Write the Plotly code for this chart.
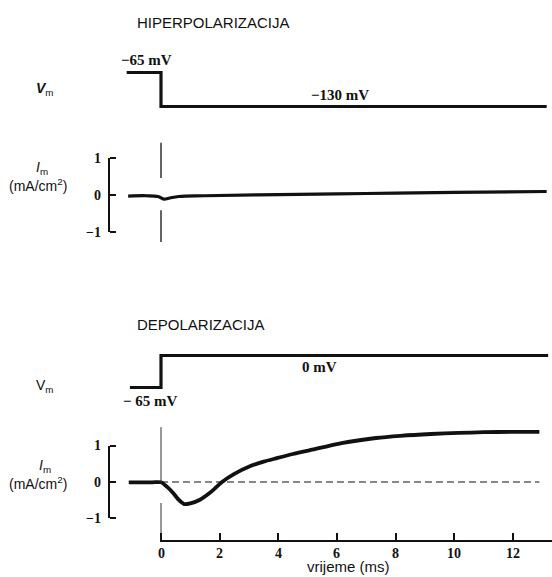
import plotly.graph_objects as go

# ---------------- data ----------------
# Hyperpolarisation: voltage step -65 mV -> -130 mV at t = 0
hyp_v_t = [-1.17, 0, 0, 13.15]
hyp_v_mv = [-65, -65, -130, -130]
# Hyperpolarisation: membrane current (mA/cm^2)
hyp_i_t = [-1.12, -0.5, -0.1, 0.1, 0.3, 0.6, 1.5, 4, 7, 10, 13.15]
hyp_i = [-0.03, -0.02, -0.04, -0.11, -0.08, -0.04, -0.02, 0.01, 0.04, 0.07, 0.095]
# Hyperpolarisation: step-time marker (broken vertical line at t = 0)
hyp_mark_t = [0, 0, None, 0, 0]
hyp_mark_i = [1.41, 0.46, None, -0.41, -1.27]

# Depolarisation: voltage step -65 mV -> 0 mV at t = 0
dep_v_t = [-1.06, 0, 0, 13.2]
dep_v_mv = [-65, -65, 0, 0]
# Depolarisation: membrane current (mA/cm^2)
dep_i_t = [-1.1, -0.3, 0, 0.2, 0.42, 0.6, 0.79, 1.0, 1.33, 1.7, 2.07, 2.5, 3.03, 3.5,
           3.92, 4.5, 5.06, 6.16, 7.33, 8.16, 9.2, 10.15, 11.0, 11.99, 12.9]
dep_i = [0, 0, 0, -0.12, -0.30, -0.48, -0.60, -0.58, -0.48, -0.27, 0.0, 0.23, 0.44, 0.57,
         0.66, 0.78, 0.88, 1.08, 1.22, 1.28, 1.33, 1.36, 1.38, 1.39, 1.39]
dep_zero_t = [0, 12.9]
dep_zero_i = [0, 0]
dep_mark_t = [0, 0, None, 0, 0]
dep_mark_i = [1.52, 0.0, None, -0.57, -1.62]

time_ticks = [0, 2, 4, 6, 8, 10, 12]
current_ticks = [-1, 0, 1]
current_tick_labels = ["−1", "0", "1"]

# ---------------- layout helpers ----------------
W, H = 552, 577
T0_PX, PX_PER_MS = 161, 29.33
BRACKET_PX = 109
XAXIS_PX = 541


def px(x):
    return x / W


def py(y):
    return 1 - y / H


def yrange(zero_px, unit_px, bottom_px=H, top_px=0):
    return [-(bottom_px - zero_px) / unit_px, (zero_px - top_px) / unit_px]


def trange(left_px):
    return [-(T0_PX - left_px) / PX_PER_MS, (W - T0_PX) / PX_PER_MS]


INK = "#111111"
SERIF = "Liberation Serif"
SANS = "Liberation Sans"

fig = go.Figure()

fig.add_trace(go.Scatter(x=hyp_v_t, y=hyp_v_mv, xaxis="x", yaxis="y3", mode="lines",
                         line=dict(color=INK, width=3.2)))
fig.add_trace(go.Scatter(x=hyp_i_t, y=hyp_i, xaxis="x", yaxis="y5", mode="lines",
                         line=dict(color=INK, width=3.2, shape="spline")))
fig.add_trace(go.Scatter(x=hyp_mark_t, y=hyp_mark_i, xaxis="x", yaxis="y2", mode="lines",
                         line=dict(color=INK, width=1.3)))
fig.add_trace(go.Scatter(x=dep_v_t, y=dep_v_mv, xaxis="x", yaxis="y4", mode="lines",
                         line=dict(color=INK, width=3.2)))
fig.add_trace(go.Scatter(x=dep_zero_t, y=dep_zero_i, xaxis="x", yaxis="y6", mode="lines",
                         line=dict(color=INK, width=1.2, dash="7px,4px")))
fig.add_trace(go.Scatter(x=dep_mark_t, y=dep_mark_i, xaxis="x2", yaxis="y7", mode="lines",
                         line=dict(color="#333333", width=1)))
fig.add_trace(go.Scatter(x=dep_i_t, y=dep_i, xaxis="x", yaxis="y", mode="lines",
                         line=dict(color=INK, width=3.8, shape="spline", smoothing=0.7)))

hidden = dict(visible=False, fixedrange=True, showgrid=False, zeroline=False)
# bracket-style current axes: free line at the bracket, ticks pointing right
disp_y = dict(anchor="free", position=px(BRACKET_PX), side="right",
              range=[-1, 1], tickvals=current_ticks, showticklabels=False,
              ticks="outside", ticklen=6, tickwidth=1.5, tickcolor=INK,
              showline=True, linecolor=INK, linewidth=1.5, showgrid=False, zeroline=False,
              fixedrange=True)

fig.update_layout(
    width=W, height=H,
    margin=dict(l=0, r=0, t=0, b=0),
    paper_bgcolor="white", plot_bgcolor="rgba(0,0,0,0)",
    showlegend=False,
    # data axes spanning the whole picture
    xaxis=dict(domain=[0, 1], range=trange(0), anchor="y", **hidden),
    yaxis=dict(domain=[0, 1], range=yrange(482.3, 36.3), anchor="x", **hidden),
    yaxis2=dict(overlaying="y", range=yrange(195, 37), **hidden),
    yaxis3=dict(overlaying="y", range=yrange(38.5, 34 / 65), **hidden),
    yaxis4=dict(overlaying="y", range=yrange(355.5, 32 / 65), **hidden),
    # current brackets
    yaxis5=dict(domain=[py(232), py(158)], **disp_y),
    yaxis6=dict(domain=[py(518.3), py(445.7)], **disp_y),
    # time axis line at XAXIS_PX, ticks pointing up
    yaxis7=dict(domain=[py(XAXIS_PX), 1], range=yrange(482.3, 36.3, XAXIS_PX, 0),
                anchor="x2", **hidden),
    xaxis2=dict(anchor="free", position=py(XAXIS_PX), side="top",
                domain=[px(T0_PX - 1), 1], range=trange(T0_PX - 1),
                tickvals=time_ticks, showticklabels=False,
                ticks="outside", ticklen=7, tickwidth=1.5, tickcolor=INK,
                showline=True, linecolor=INK, linewidth=1.5, showgrid=False, zeroline=False,
                fixedrange=True),
)


def note(text, x, y, size, family=SANS, xanchor="center"):
    fig.add_annotation(text=text, x=px(x), y=py(y), xref="paper", yref="paper",
                       xanchor=xanchor, yanchor="middle", showarrow=False,
                       font=dict(family=family, size=size, color=INK))


# tick labels placed through the axes' own scales
for t in time_ticks:
    fig.add_annotation(text=f"<b>{t}</b>", x=t, xref="x2", y=py(553), yref="paper",
                       xanchor="center", yanchor="middle", showarrow=False,
                       font=dict(family=SERIF, size=14, color=INK))
for axis in ("y5", "y6"):
    for v, lab in zip(current_ticks, current_tick_labels):
        fig.add_annotation(text=f"<b>{lab}</b>", x=px(103), xref="paper", y=v, yref=axis,
                           xanchor="right", yanchor="middle", showarrow=False,
                           font=dict(family=SERIF, size=14, color=INK))

note("HIPERPOLARIZACIJA", 135, 23, 15, xanchor="left")
note("DEPOLARIZACIJA", 135, 324, 15, xanchor="left")
note("<b><i>V</i></b><sub>m</sub>", 34, 89, 14, xanchor="left")
note("V<sub>m</sub>", 34, 386, 14, xanchor="left")
note("<b>−65 mV</b>", 146, 60, 15, family=SERIF)
note("<b>−130 mV</b>", 340, 95, 15, family=SERIF)
note("<b>0 mV</b>", 319, 367, 15, family=SERIF)
note("<b>− 65 mV</b>", 150, 401, 15, family=SERIF)
note("<i>I</i><sub>m</sub>", 42, 168, 14)
note("(mA/cm<sup>2</sup>)", 38, 185, 14)
note("<i>I</i><sub>m</sub>", 45, 466, 14)
note("(mA/cm<sup>2</sup>)", 38, 483, 14)
note("vrijeme (ms)", 348, 566, 15)

fig.write_html("out.html", config={"displayModeBar": False},
               post_script="document.body.style.margin='0';")
